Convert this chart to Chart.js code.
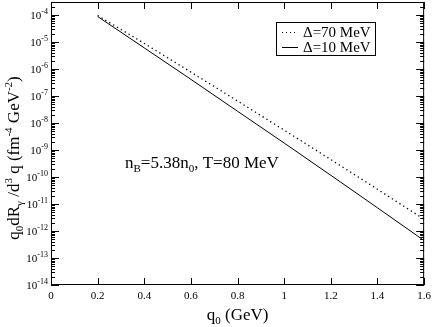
<!DOCTYPE html>
<html>
<head>
<meta charset="utf-8">
<script src="https://cdn.jsdelivr.net/npm/chart.js@4/dist/chart.umd.min.js"></script>
<style>
html,body{margin:0;padding:0;background:#fff;}
canvas{display:block;}
</style>
</head>
<body>
<canvas id="c" width="436" height="327"></canvas>
<script>
// ---- data ----
const qValues = [0.2, 0.4, 0.6, 0.8, 1.0, 1.2, 1.4, 1.6];
const delta70 = [9.5e-5, 8.8e-6, 7.6e-7, 6.5e-8, 5.4e-9, 4.4e-10, 3.5e-11, 2.7e-12];
const delta10 = [8.7e-5, 6.0e-6, 4.1e-7, 2.7e-8, 1.8e-9, 1.15e-10, 7.2e-12, 4.4e-13];
const seriesLabels = ['\u0394=70 MeV', '\u0394=10 MeV'];
const yDecadeExponents = [-14, -13, -12, -11, -10, -9, -8, -7, -6, -5, -4];
const xTickValues = [0, 0.2, 0.4, 0.6, 0.8, 1.0, 1.2, 1.4, 1.6];

const SERIF = '"Liberation Serif", serif';

function richWidth(ctx, segs) {
  let w = 0;
  for (const s of segs) { ctx.font = s.s + 'px ' + SERIF; w += ctx.measureText(s.t).width; }
  return w;
}
function drawRich(ctx, segs, x, y, align) {
  const w = richWidth(ctx, segs);
  let cx = align === 'center' ? x - w / 2 : (align === 'right' ? x - w : x);
  ctx.textBaseline = 'alphabetic';
  ctx.textAlign = 'left';
  for (const s of segs) {
    ctx.font = s.s + 'px ' + SERIF;
    ctx.fillText(s.t, cx, y + (s.dy || 0));
    cx += ctx.measureText(s.t).width;
  }
}

const decorPlugin = {
  id: 'decor',
  afterDraw(chart) {
    const ctx = chart.ctx;
    const a = chart.chartArea;
    const xs = chart.scales.x, ys = chart.scales.y;
    ctx.save();
    ctx.strokeStyle = '#000';
    ctx.fillStyle = '#000';
    ctx.lineWidth = 1;
    ctx.strokeRect(a.left + 0.5, a.top + 0.5, a.right - a.left - 1, a.bottom - a.top - 1);
    ctx.beginPath();
    for (const v of xTickValues) {
      const px = Math.round(xs.getPixelForValue(v)) + 0.5;
      ctx.moveTo(px, a.bottom); ctx.lineTo(px, a.bottom - 7);
      ctx.moveTo(px, a.top); ctx.lineTo(px, a.top + 7);
    }
    for (const e of yDecadeExponents) {
      for (let m = 1; m <= 9; m++) {
        const v = m * Math.pow(10, e);
        if (v > ys.max * 1.0001 || v < ys.min * 0.9999) continue;
        const py = Math.round(ys.getPixelForValue(v)) + 0.5;
        const len = m === 1 ? 8 : 4;
        ctx.moveTo(a.left, py); ctx.lineTo(a.left + len, py);
        ctx.moveTo(a.right, py); ctx.lineTo(a.right - len, py);
      }
    }
    ctx.stroke();
    for (const e of yDecadeExponents) {
      const py = ys.getPixelForValue(Math.pow(10, e));
      drawRich(ctx, [{t: '10', s: 11, dy: 0}, {t: String(e), s: 8, dy: -5}], a.left - 3, py + 4, 'right');
    }
    drawRich(ctx, [{t: 'q', s: 17}, {t: '0', s: 11, dy: 4}, {t: ' (GeV)', s: 17}], (a.left + a.right) / 2, 320, 'center');
    ctx.save();
    ctx.translate(19, 158);
    ctx.rotate(-Math.PI / 2);
    drawRich(ctx, [
      {t: 'q', s: 17}, {t: '0', s: 11, dy: 4}, {t: 'dR', s: 17}, {t: '\u03b3', s: 11, dy: 4},
      {t: ' /d', s: 17}, {t: '3', s: 11, dy: -7}, {t: ' q (fm', s: 17}, {t: '-4', s: 11, dy: -7},
      {t: ' GeV', s: 17}, {t: '-2', s: 11, dy: -7}, {t: ')', s: 17}
    ], 0, 0, 'center');
    ctx.restore();
    drawRich(ctx, [
      {t: 'n', s: 17}, {t: 'B', s: 11, dy: 4}, {t: '=5.38n', s: 17}, {t: '0', s: 11, dy: 4}, {t: ',', s: 17}, {t: ' T=80 MeV', s: 17}
    ], 125, 168, 'left');
    ctx.fillStyle = '#fff';
    ctx.fillRect(276.5, 22.5, 99, 33);
    ctx.strokeRect(276.5, 22.5, 99, 33);
    ctx.fillStyle = '#000';
    const rows = [{y: 32.5, dash: [1, 3]}, {y: 47.5, dash: []}];
    rows.forEach((r, i) => {
      ctx.setLineDash(r.dash);
      ctx.beginPath(); ctx.moveTo(282, r.y); ctx.lineTo(298, r.y); ctx.stroke();
      ctx.setLineDash([]);
      ctx.font = '15px ' + SERIF;
      ctx.textBaseline = 'middle';
      ctx.textAlign = 'left';
      ctx.fillText(seriesLabels[i], 303, r.y + 0.5);
    });
    ctx.restore();
  }
};

const toPts = arr => qValues.map((q, i) => ({x: q, y: arr[i]}));

new Chart(document.getElementById('c'), {
  type: 'line',
  data: {
    datasets: [
      {label: seriesLabels[0], data: toPts(delta70), borderColor: '#000', borderWidth: 1.3, borderDash: [1.3, 3.2], pointRadius: 0, tension: 0, fill: false},
      {label: seriesLabels[1], data: toPts(delta10), borderColor: '#000', borderWidth: 1, pointRadius: 0, tension: 0, fill: false}
    ]
  },
  options: {
    responsive: false,
    animation: false,
    devicePixelRatio: 1,
    layout: {padding: {top: 2, right: 8, left: 0, bottom: 0}},
    plugins: {legend: {display: false}, tooltip: {enabled: false}},
    scales: {
      x: {
        type: 'linear', min: 0, max: 1.6,
        grid: {display: false, drawTicks: false},
        border: {display: false},
        afterBuildTicks: s => { s.ticks = xTickValues.map(v => ({value: v})); },
        ticks: {
          padding: 5, color: '#000', maxRotation: 0, autoSkip: false,
          font: {family: SERIF, size: 11},
          callback: v => String(+Number(v).toFixed(1))
        },
        afterFit: s => { s.height = 42; }
      },
      y: {
        type: 'logarithmic', min: 1e-14, max: 3e-4,
        grid: {display: false, drawTicks: false},
        border: {display: false},
        ticks: {display: false},
        afterFit: s => { s.width = 51; }
      }
    }
  },
  plugins: [decorPlugin]
});
</script>
</body>
</html>
